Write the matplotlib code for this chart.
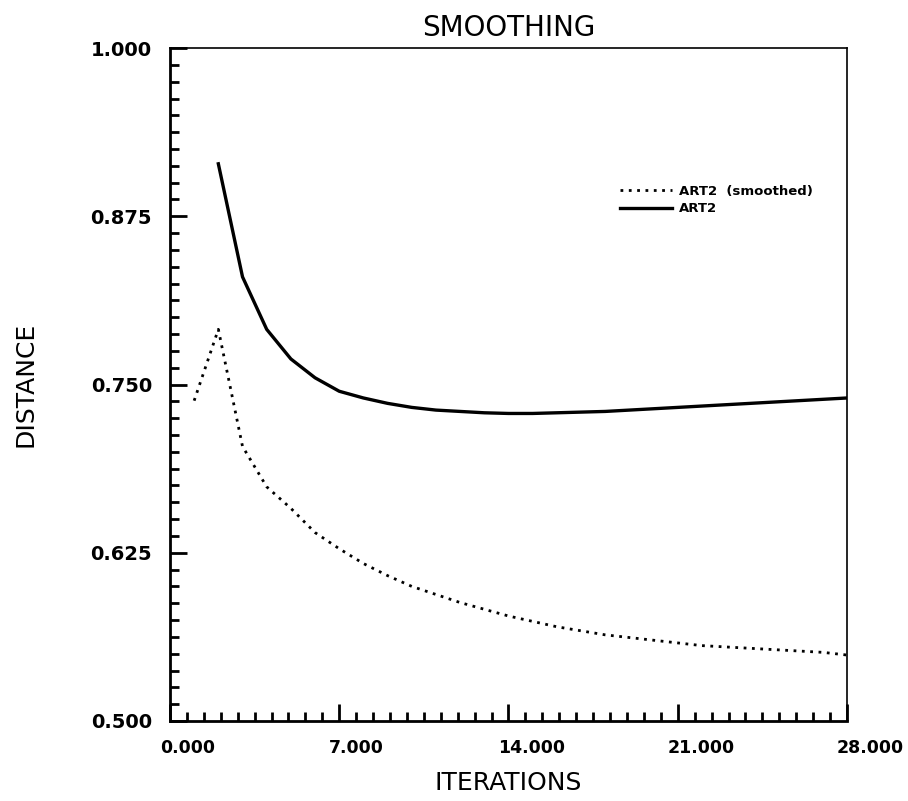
import matplotlib
matplotlib.use("Agg")
import matplotlib.pyplot as plt
from matplotlib.ticker import MultipleLocator, FormatStrFormatter
from matplotlib.transforms import offset_copy

# iterations and distances
iter_smoothed = [1, 2, 3, 4, 5, 6, 7, 8, 9, 10, 11, 12, 13, 14,
                 15, 16, 17, 18, 19, 20, 21, 22, 23, 24, 25, 26, 27, 28]
dist_smoothed = [0.738, 0.791, 0.704, 0.674, 0.658, 0.640, 0.628, 0.617, 0.608, 0.600,
                 0.594, 0.588, 0.583, 0.578, 0.574, 0.570, 0.567, 0.564, 0.562, 0.560,
                 0.558, 0.556, 0.555, 0.554, 0.553, 0.552, 0.551, 0.549]

iter_art2 = [2, 3, 4, 5, 6, 7, 8, 9, 10, 11, 12, 13, 14, 15,
             16, 17, 18, 19, 20, 21, 22, 23, 24, 25, 26, 27, 28]
dist_art2 = [0.914, 0.830, 0.791, 0.769, 0.755, 0.745, 0.740, 0.736, 0.733, 0.731,
             0.730, 0.729, 0.7285, 0.7285, 0.729, 0.7295, 0.730, 0.731, 0.732, 0.733,
             0.734, 0.735, 0.736, 0.737, 0.738, 0.739, 0.740]

xticks = [0, 7, 14, 21, 28]
yticks = [0.500, 0.625, 0.750, 0.875, 1.000]

fig = plt.figure(figsize=(9.08, 8.01), dpi=100)
ax = fig.add_axes([0.1872, 0.0999, 0.7456, 0.8401])

ax.plot(iter_smoothed, dist_smoothed, color='black', lw=2.0,
        linestyle=(0, (1, 2)), label='ART2  (smoothed)')
ax.plot(iter_art2, dist_art2, color='black', lw=2.4, label='ART2')

ax.set_xlim(0, 28)
ax.set_ylim(0.5, 1.0)
ax.set_xticks(xticks)
ax.set_yticks(yticks)
ax.xaxis.set_minor_locator(MultipleLocator(0.7))
ax.yaxis.set_minor_locator(MultipleLocator(0.0125))
ax.xaxis.set_major_formatter(FormatStrFormatter('%.3f'))
ax.yaxis.set_major_formatter(FormatStrFormatter('%.3f'))

ax.tick_params(which='major', direction='in', length=12, width=2, pad=13)
ax.tick_params(which='minor', direction='in', length=6.5, width=2)
ax.tick_params(axis='x', which='major', pad=13)

for lab in ax.get_xticklabels():
    lab.set_fontsize(12.5)
    lab.set_fontweight('bold')
    lab.set_horizontalalignment('left')
    lab.set_transform(offset_copy(lab.get_transform(), fig=fig, x=-10, y=0, units='dots'))
for lab in ax.get_yticklabels():
    lab.set_fontsize(14)
    lab.set_fontweight('bold')

for side in ['left', 'bottom']:
    ax.spines[side].set_linewidth(2)
for side in ['top', 'right']:
    ax.spines[side].set_linewidth(1.2)

ax.set_title('SMOOTHING', fontsize=20, pad=9)
ax.set_ylabel('DISTANCE', fontsize=18, labelpad=38)
ax.set_xlabel('ITERATIONS', fontsize=18, labelpad=10)

leg = ax.legend(loc='upper left', bbox_to_anchor=(0.657, 0.805), frameon=False,
                handlelength=3.9, handletextpad=0.6, labelspacing=0.35,
                borderaxespad=0, prop={'size': 9.5, 'weight': 'bold'})

fig.savefig('out.png', dpi=100)
